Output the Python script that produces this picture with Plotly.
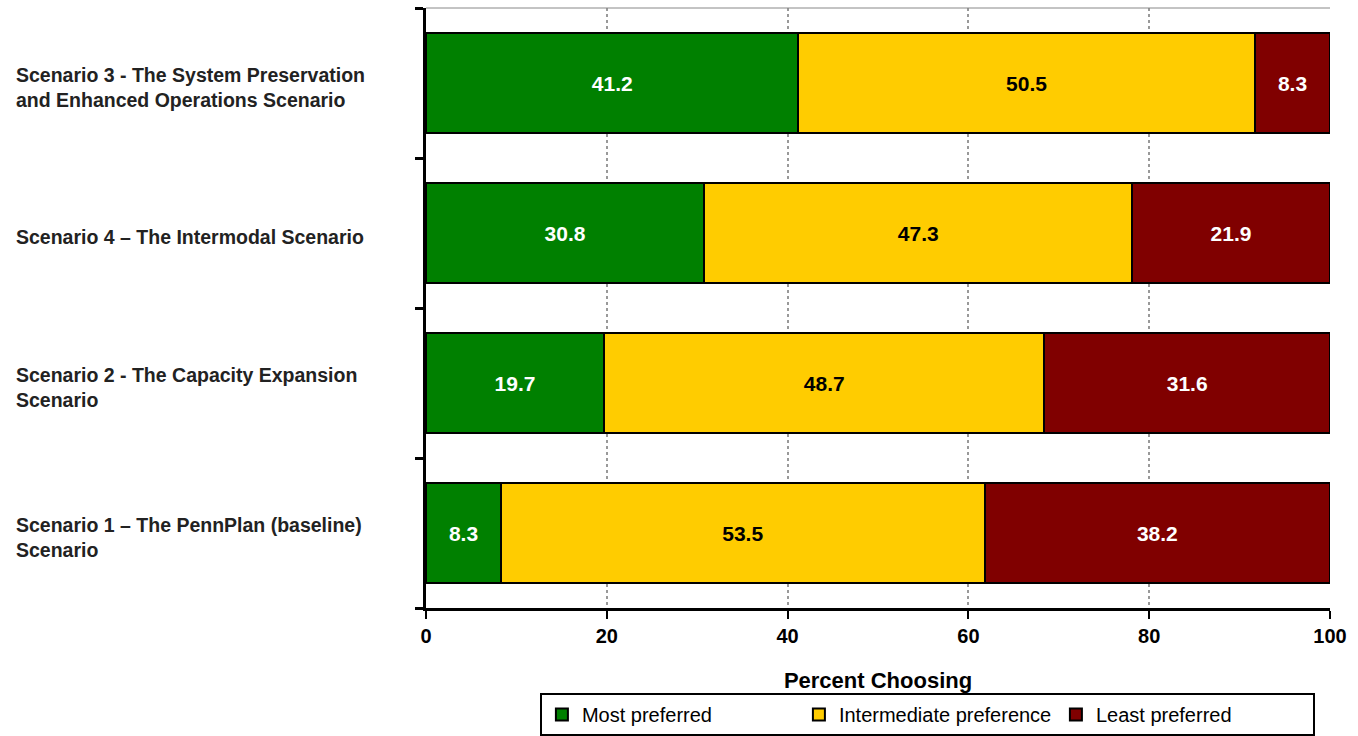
import plotly.graph_objects as go

# Scenarios listed bottom-to-top as they appear on the category axis
scenarios = [
    "Scenario 1 – The PennPlan (baseline)<br>Scenario",
    "Scenario 2 - The Capacity Expansion<br>Scenario",
    "Scenario 4 – The Intermodal Scenario",
    "Scenario 3 - The System Preservation<br>and Enhanced Operations Scenario",
]
most_preferred = [8.3, 19.7, 30.8, 41.2]
intermediate = [53.5, 48.7, 47.3, 50.5]
least_preferred = [38.2, 31.6, 21.9, 8.3]
x_ticks = [0, 20, 40, 60, 80, 100]

FONT = "Liberation Sans, Arial, sans-serif"

series = [
    ("Most preferred", most_preferred, "#008000", "white"),
    ("Intermediate preference", intermediate, "#FFCC00", "black"),
    ("Least preferred", least_preferred, "#800000", "white"),
]

fig = go.Figure()
for name, vals, color, txtcolor in series:
    fig.add_trace(go.Bar(
        y=scenarios, x=vals, name=name, orientation="h",
        marker=dict(color=color, line=dict(color="black", width=2)),
        text=[f"{v:.1f}" for v in vals],
        textposition="inside", insidetextanchor="middle",
        textfont=dict(family=FONT, size=21, color=txtcolor, weight="bold"),
        constraintext="none",
        hoverinfo="skip",
    ))

# Category labels, left-aligned at the far left of the figure
for s in scenarios:
    fig.add_annotation(
        x=-0.4558, xref="paper", y=s, yref="y",
        text=s, showarrow=False, xanchor="left", yanchor="middle",
        align="left", yshift=-4,
        font=dict(family=FONT, size=19.5, color="#222", weight="bold"),
    )

# Thin top border of the plotting area
fig.add_shape(type="line", xref="paper", yref="paper", x0=0, x1=1, y0=1, y1=1,
              line=dict(color="#888", width=1))

fig.update_layout(
    width=1358, height=736,
    margin=dict(l=426, r=28, t=8, b=128, autoexpand=False),
    barmode="stack", bargap=0.333,
    plot_bgcolor="white", paper_bgcolor="white",
    font=dict(family=FONT, color="black"),
    xaxis=dict(
        range=[0, 100], tickvals=x_ticks, ticks="outside", ticklen=8,
        tickwidth=2, tickcolor="black", automargin=False,
        showline=True, linecolor="black", linewidth=3,
        showgrid=True, gridcolor="#999", griddash="dot", gridwidth=2,
        zeroline=False,
        tickfont=dict(family=FONT, size=20, color="black", weight="bold"),
        title=dict(text="Percent Choosing", standoff=30,
                   font=dict(family=FONT, size=22, color="black", weight="bold")),
    ),
    yaxis=dict(
        categoryorder="array", categoryarray=scenarios,
        showticklabels=False, ticks="outside", tickson="boundaries",
        ticklen=8, tickwidth=3, tickcolor="black", automargin=False,
        showline=True, linecolor="black", linewidth=3,
        showgrid=False, zeroline=False,
    ),
    legend=dict(
        orientation="h", x=0.126, y=0, xanchor="left", yanchor="bottom",
        yref="container",
        bordercolor="black", borderwidth=2, entrywidth=212,
        font=dict(family=FONT, size=20, color="black"),
        traceorder="normal",
    ),
    showlegend=True,
)

fig.write_html("out.html")
